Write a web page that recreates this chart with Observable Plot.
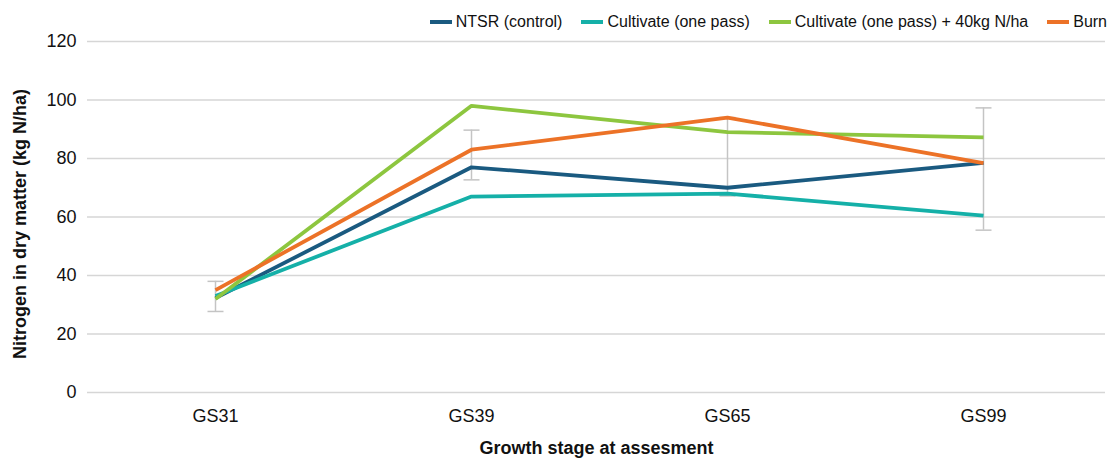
<!DOCTYPE html>
<html>
<head>
<meta charset="utf-8">
<script src="https://cdn.jsdelivr.net/npm/d3@7"></script>
<script src="https://cdn.jsdelivr.net/npm/@observablehq/plot@0.6"></script>
<style>
  html, body { margin: 0; padding: 0; background: #fff; }
  body { width: 1109px; height: 459px; overflow: hidden; font-family: "Liberation Sans", Arial, sans-serif; }
  #legend { height: 30px; display: flex; justify-content: flex-end; align-items: center; padding-right: 2px; padding-top: 13px; box-sizing: border-box; font-size: 16px; color: #111; line-height: 16px; }
  .item { display: flex; align-items: center; margin-left: 19px; }
  .item:first-child { margin-left: 0; }
  .sw { width: 22px; height: 4px; margin-right: 4px; }
  #chart svg { display: block; }
</style>
</head>
<body>
<div id="legend"></div>
<div id="chart"></div>
<script>
const stages = ["GS31", "GS39", "GS65", "GS99"];
const seriesNames = ["NTSR (control)", "Cultivate (one pass)", "Cultivate (one pass) + 40kg N/ha", "Burn"];
const ntsr = [32.3, 77, 70, 78.5];
const cultivate = [33, 67, 68, 60.5];
const cultivateN = [32, 98, 89, 87.2];
const burn = [35, 83, 94, 78.4];
const errLow = [27.7, 72.7, 67.2, 55.5];
const errHigh = [38, 89.7, 94, 97.3];
const yTicks = [0, 20, 40, 60, 80, 100, 120];
const colors = ["#1a5a80", "#15b0a8", "#8dc63f", "#ec7227"];

const seriesValues = [ntsr, cultivate, cultivateN, burn];
const rows = [];
seriesNames.forEach((s, i) => stages.forEach((g, j) => rows.push({series: s, stage: g, value: seriesValues[i][j]})));
const errs = stages.map((g, j) => ({stage: g, lo: errLow[j], hi: errHigh[j]}));

const legend = document.getElementById("legend");
seriesNames.forEach((s, i) => {
  const it = document.createElement("div");
  it.className = "item";
  it.innerHTML = `<span class="sw" style="background:${colors[i]}"></span><span>${s}</span>`;
  legend.appendChild(it);
});

const capSymbol = {
  draw(ctx, size) {
    const w = Math.sqrt(size / Math.PI);
    ctx.moveTo(-w, 0);
    ctx.lineTo(w, 0);
  }
};

const chart = Plot.plot({
  width: 1109,
  height: 429,
  marginLeft: 87,
  marginRight: 4,
  marginTop: 11,
  marginBottom: 67,
  style: {fontFamily: "'Liberation Sans', Arial, sans-serif", fontSize: "18px", color: "#111", overflow: "visible"},
  x: {type: "point", domain: stages, range: [214, 984], padding: 0, label: null},
  y: {domain: [0, 120], label: null},
  color: {domain: seriesNames, range: colors},
  marks: [
    Plot.ruleY(yTicks, {stroke: "#d6d6d6", strokeWidth: 1.5}),
    Plot.axisY({ticks: yTicks, tickSize: 0, tickPadding: 11, label: null, fontSize: 18}),
    Plot.axisX({tickSize: 0, tickPadding: 17, label: null, fontSize: 18}),
    Plot.ruleX(errs, {x: "stage", y1: "lo", y2: "hi", stroke: "#c4c4c4", strokeWidth: 1.5}),
    Plot.dot(errs, {x: "stage", y: "lo", symbol: capSymbol, r: 8, stroke: "#c4c4c4", strokeWidth: 1.5, fill: "none"}),
    Plot.dot(errs, {x: "stage", y: "hi", symbol: capSymbol, r: 8, stroke: "#c4c4c4", strokeWidth: 1.5, fill: "none"}),
    Plot.line(rows, {x: "stage", y: "value", z: "series", stroke: "series", strokeWidth: 3.8, strokeLinejoin: "miter", strokeLinecap: "butt"}),
    Plot.text(["Nitrogen in dry matter (kg N/ha)"], {frameAnchor: "left", textAnchor: "middle", lineAnchor: "middle", rotate: -90, dx: -67, dy: 7, fontWeight: "bold", fontSize: 18, fill: "#111"}),
    Plot.text(["Growth stage at assesment"], {frameAnchor: "bottom", textAnchor: "middle", lineAnchor: "middle", dy: 56, fontWeight: "bold", fontSize: 18, fill: "#111"})
  ]
});
document.getElementById("chart").appendChild(chart);
</script>
</body>
</html>
